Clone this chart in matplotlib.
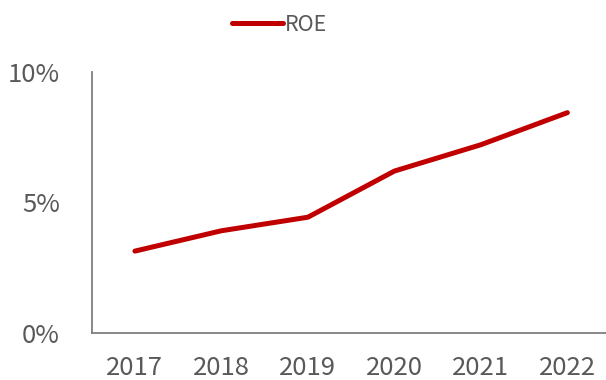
import matplotlib.pyplot as plt
from matplotlib.ticker import FuncFormatter

plt.rcParams['font.family'] = ['Noto Sans CJK SC', 'DejaVu Sans']

years = ['2017', '2018', '2019', '2020', '2021', '2022']
roe = [3.13, 3.91, 4.43, 6.20, 7.21, 8.44]
y_ticks = [0, 5, 10]

text_color = '#595959'

fig = plt.figure(figsize=(6.06, 3.8), dpi=100)
ax = fig.add_axes([0.1513, 0.1245, 0.8563, 0.686])

x = range(len(years))
ax.plot(x, roe, color='#C00000', linewidth=3.6, solid_capstyle='round',
        solid_joinstyle='round', label='ROE', clip_on=False)

ax.set_xlim(-0.5, len(years) - 0.5)
ax.set_ylim(0, 10)
ax.set_xticks(list(x))
ax.set_xticklabels(years)
ax.set_yticks(y_ticks)
ax.yaxis.set_major_formatter(FuncFormatter(lambda v, p: f'{v:.0f}%'))

for s in ['top', 'right']:
    ax.spines[s].set_visible(False)
for s in ['left', 'bottom']:
    ax.spines[s].set_color('#7f7f7f')
    ax.spines[s].set_linewidth(1.3)

ax.tick_params(axis='both', length=0, labelsize=18.5, labelcolor=text_color)
ax.tick_params(axis='y', pad=23)
ax.tick_params(axis='x', pad=16)

ax.legend(loc='upper center', bbox_to_anchor=(0.362, 1.297), frameon=False,
          fontsize=15.5, labelcolor=text_color, handlelength=2.4,
          handletextpad=0.1)

fig.savefig('out.png', dpi=100)
